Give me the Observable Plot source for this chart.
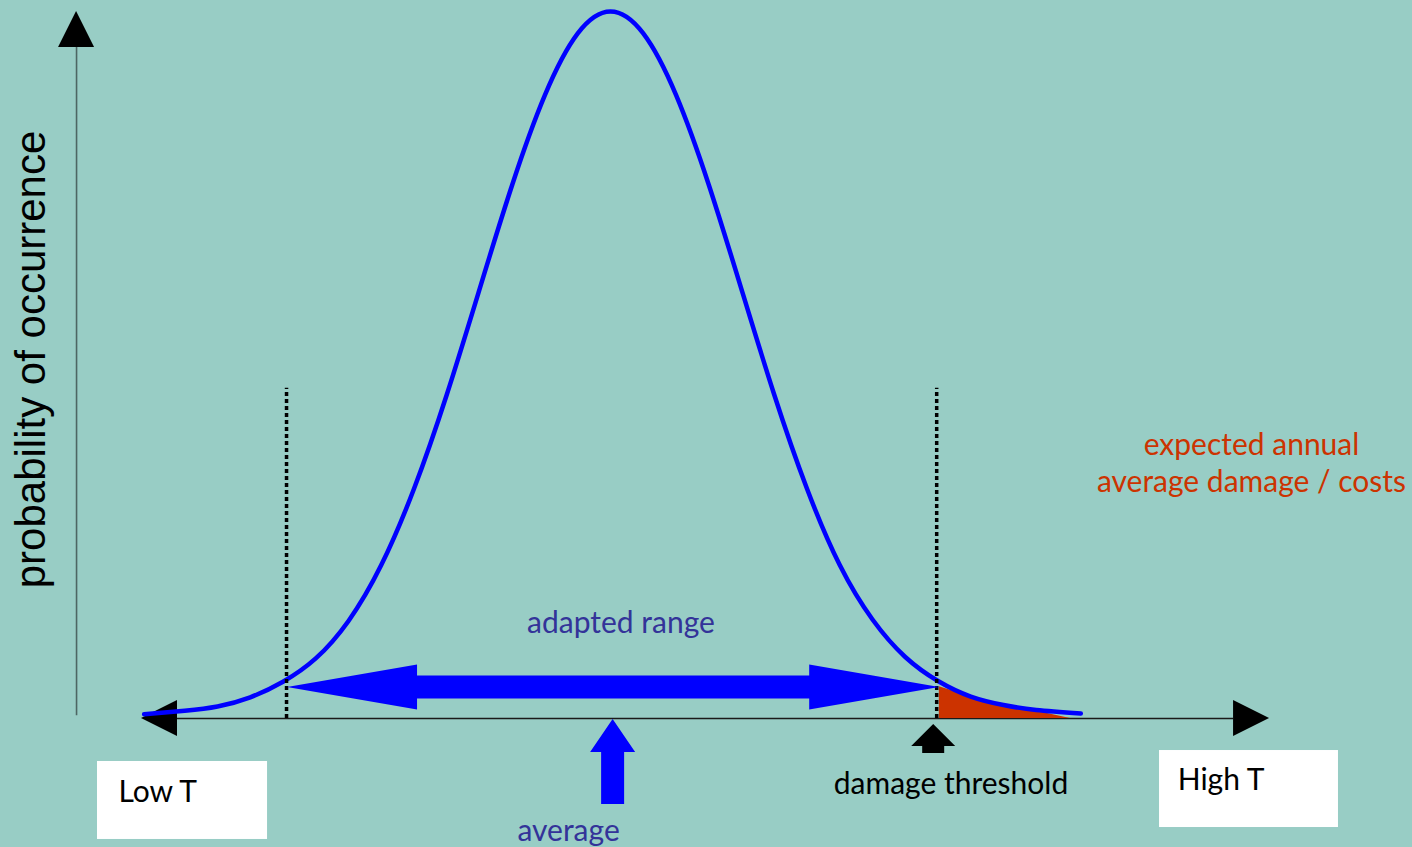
<!DOCTYPE html>
<html>
<head>
<meta charset="utf-8">
<script src="https://cdn.jsdelivr.net/npm/d3@7"></script>
<script src="https://cdn.jsdelivr.net/npm/@observablehq/plot@0.6"></script>
<style>
  html, body { margin: 0; padding: 0; background: #98cdc5; overflow: hidden; }
  #chart svg { display: block; }
</style>
</head>
<body>
<div id="chart"></div>
<script>
// ---------- DATA (temperature in standard deviations from the mean, probability relative to peak) ----------
const temperature = [-3.56, -3.25, -3, -2.75, -2.5, -2.25, -2, -1.75, -1.5, -1.25, -1, -0.75, -0.5, -0.25, 0,
                     0.25, 0.5, 0.75, 1, 1.25, 1.5, 1.75, 2, 2.25, 2.5, 2.75, 3, 3.25, 3.59];
const probability = [0.006, 0.011, 0.017, 0.030, 0.052, 0.085, 0.138, 0.217, 0.325, 0.458, 0.607, 0.755, 0.882, 0.969, 1.0,
                     0.969, 0.882, 0.755, 0.607, 0.458, 0.325, 0.217, 0.140, 0.087, 0.053, 0.031, 0.019, 0.012, 0.007];
const damageTemperature = [2.51, 2.75, 2.98, 3.24, 3.51];
const damageProbability = [0.045, 0.031, 0.021, 0.011, 0];
const lowThreshold = -2.473;
const highThreshold = 2.49;
const averageT = 0.02;
const axisLabel = "probability of occurrence";
const rangeLabel = "adapted range";
const averageLabel = "average";
const thresholdLabel = "damage threshold";
const lowLabel = "Low T";
const highLabel = "High T";
const damageLabel = "expected annual\naverage damage / costs";

// ---------- LAYOUT ----------
const W = 1412, H = 847;
const xDomain = [-4.6565, 6.1221];
const yDomain = [-0.18246, 1.01556];
const kx = (xDomain[1] - xDomain[0]) / W;   // data units per pixel (x)
const ky = (yDomain[1] - yDomain[0]) / H;   // data units per pixel (y)

const BLUE = "#0000ff", NAVY = "#333399", RED = "#cc3300";
const calibri = "Lato, 'Open Sans', sans-serif";

const curve = temperature.map((t, i) => ({t, p: probability[i]}));
const damage = damageTemperature.map((t, i) => ({t, p: damageProbability[i]}));

// double-headed horizontal arrow polygon as band
function doubleArrow(x0, x1, yc, headLen, headHalf, shaftHalf) {
  const hl = headLen * kx, hh = headHalf * ky, sh = shaftHalf * ky;
  return [
    {x: x0, y1: yc, y2: yc},
    {x: x0 + hl, y1: yc - hh, y2: yc + hh},
    {x: x0 + hl, y1: yc - sh, y2: yc + sh},
    {x: x1 - hl, y1: yc - sh, y2: yc + sh},
    {x: x1 - hl, y1: yc - hh, y2: yc + hh},
    {x: x1, y1: yc, y2: yc}
  ];
}
// upward block arrow
function upArrow(xc, yTip, headLen, shaftLen, headHalf, shaftHalf) {
  const hb = yTip - headLen * ky, yb = hb - shaftLen * ky;
  const hw = headHalf * kx, sw = shaftHalf * kx;
  const pts = [{y: yTip, x1: xc, x2: xc}, {y: hb, x1: xc - hw, x2: xc + hw}];
  if (shaftLen > 0) pts.push({y: hb, x1: xc - sw, x2: xc + sw}, {y: yb, x1: xc - sw, x2: xc + sw});
  return pts;
}
function sideHead(xTip, yc, len, half) {
  return [{x: xTip, y1: yc, y2: yc}, {x: xTip + len * kx, y1: yc - half * ky, y2: yc + half * ky}];
}

const xAxisStart = -3.58, xAxisEnd = 5.031;
const yAxisX = -4.076, yAxisTop = 1.0;
const rangeLevel = 0.044;
const dottedTop = 0.467;

const plot = Plot.plot({
  width: W, height: H,
  margin: 0,
  x: {domain: xDomain, axis: null},
  y: {domain: yDomain, axis: null},
  style: {background: "#98cdc5", overflow: "visible"},
  marks: [
    // white boxes
    Plot.rect([{x1: -3.916, x2: -2.618, y1: -0.1711, y2: -0.0608}, {x1: 4.191, x2: 5.557, y1: -0.1542, y2: -0.0453}],
      {x1: "x1", x2: "x2", y1: "y1", y2: "y2", fill: "white"}),
    // y axis
    Plot.ruleX([yAxisX], {y1: 0.004, y2: yAxisTop - 36 * ky, stroke: "#4d6663", strokeWidth: 1.6}),
    Plot.areaX(upArrow(yAxisX, yAxisTop, 36, 0, 18, 0), {y: "y", x1: "x1", x2: "x2", fill: "black", curve: "linear"}),
    // x axis
    Plot.ruleY([0], {x1: xAxisStart + 36 * kx, x2: xAxisEnd - 36 * kx, stroke: "#1a1a1a", strokeWidth: 1.5}),
    Plot.areaY(sideHead(xAxisStart, 0, 36, 18), {x: "x", y1: "y1", y2: "y2", fill: "black", curve: "linear"}),
    Plot.areaY(sideHead(xAxisEnd, 0, -36, 18), {x: "x", y1: "y1", y2: "y2", fill: "black", curve: "linear"}),
    // damage tail
    Plot.areaY(damage, {x: "t", y1: 0, y2: "p", fill: RED, curve: "linear"}),
    // distribution curve
    Plot.line(curve, {x: "t", y: "p", stroke: BLUE, strokeWidth: 4.5, curve: "natural"}),
    // threshold dotted lines
    Plot.ruleX([lowThreshold, highThreshold], {y1: 0, y2: dottedTop, stroke: "black", strokeWidth: 3.5, strokeDasharray: "4,3"}),
    // adapted range arrow
    Plot.areaY(doubleArrow(lowThreshold + 1 * kx, highThreshold + 3 * kx, rangeLevel, 130, 22.5, 11.5),
      {x: "x", y1: "y1", y2: "y2", fill: BLUE, curve: "linear"}),
    // average arrow
    Plot.areaX(upArrow(averageT, -1 * ky, 33, 52, 22.5, 11.5), {y: "y", x1: "x1", x2: "x2", fill: BLUE, curve: "linear"}),
    // damage threshold arrow
    Plot.areaX(upArrow(highThreshold - 3 * kx, -6 * ky, 22, 7, 22, 11), {y: "y", x1: "x1", x2: "x2", fill: "black", curve: "linear"}),
    // labels
    Plot.text([{x: 0.08, y: 0.1216, s: rangeLabel}, {x: -0.32, y: -0.1726, s: averageLabel}],
      {x: "x", y: "y", text: "s", fill: NAVY, fontSize: 30, fontFamily: calibri, textAnchor: "middle", lineAnchor: "bottom"}),
    Plot.text([{x: 2.599, y: -0.1061, s: thresholdLabel}],
      {x: "x", y: "y", text: "s", fill: "black", fontSize: 30, fontFamily: calibri, textAnchor: "middle", lineAnchor: "bottom"}),
    Plot.text([{x: -3.756, y: -0.1174, s: lowLabel}, {x: 4.33, y: -0.1018, s: highLabel}],
      {x: "x", y: "y", text: "s", fill: "black", fontSize: 30, fontFamily: calibri, textAnchor: "start", lineAnchor: "bottom"}),
    Plot.text([{x: 4.893, y: 0.3197, s: damageLabel}],
      {x: "x", y: "y", text: "s", fill: RED, fontSize: 30, fontFamily: calibri, textAnchor: "middle", lineAnchor: "bottom", lineHeight: 37 / 30}),
    Plot.text([{x: -4.313, y: 0.5078, s: axisLabel}],
      {x: "x", y: "y", text: "s", fill: "black", fontSize: 42, fontFamily: "'Liberation Sans', Arial, sans-serif", rotate: -90, textAnchor: "middle", lineAnchor: "bottom"})
  ]
});
document.getElementById("chart").append(plot);
</script>
</body>
</html>
